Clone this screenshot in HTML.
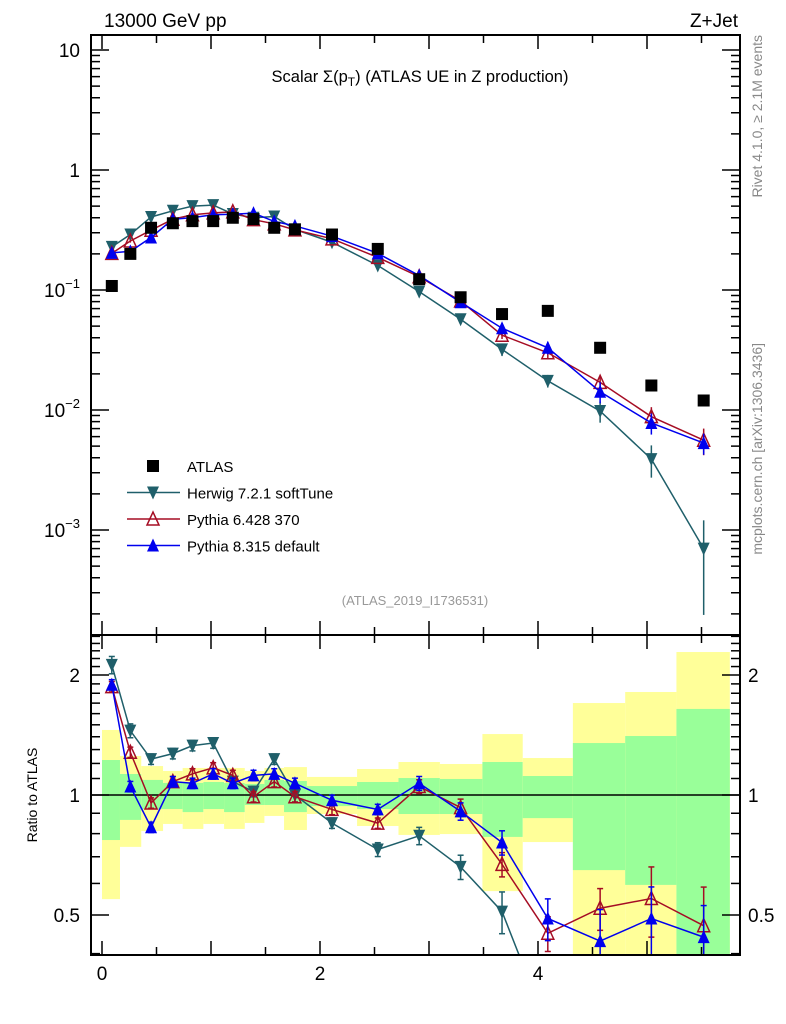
<!DOCTYPE html>
<html><head><meta charset="utf-8"><style>
html,body{margin:0;padding:0;background:#fff;width:786px;height:1024px;overflow:hidden;}
svg{display:block;font-family:"Liberation Sans",sans-serif;}
</style></head><body>
<svg id="chart" width="786" height="1024" viewBox="0 0 786 1024" xmlns="http://www.w3.org/2000/svg">
<g id="bands"></g>
<g id="marks"></g>
<g id="axes"></g>
<text x="104" y="27" font-size="19">13000 GeV pp</text>
<text x="738" y="27" font-size="19" text-anchor="end">Z+Jet</text>
<text x="420" y="82" font-size="16.5" text-anchor="middle">Scalar Σ(p<tspan font-size="12" dy="4">T</tspan><tspan dy="-4">) (ATLAS UE in Z production)</tspan></text>
<text x="415" y="605" font-size="13" fill="#999" text-anchor="middle">(ATLAS_2019_I1736531)</text>
<text transform="translate(762,35) rotate(-90)" font-size="14" fill="#888" text-anchor="end">Rivet 4.1.0, ≥ 2.1M events</text>
<text transform="translate(762,343) rotate(-90)" font-size="14" fill="#888" text-anchor="end">mcplots.cern.ch [arXiv:1306.3436]</text>
<text transform="translate(37,795) rotate(-90)" font-size="14" text-anchor="middle">Ratio to ATLAS</text>
<g id="legend"></g>
</svg>
<script>
const xCenters=[0.09,0.26,0.45,0.65,0.83,1.02,1.20,1.39,1.58,1.77,2.11,2.53,2.91,3.29,3.67,4.09,4.57,5.04,5.52];
const binEdges=[0.0,0.165,0.36,0.56,0.74,0.93,1.12,1.31,1.49,1.67,1.88,2.34,2.72,3.10,3.49,3.86,4.32,4.80,5.27,5.76];
const atlasVals=[0.108,0.20,0.33,0.36,0.375,0.375,0.40,0.39,0.33,0.32,0.29,0.22,0.123,0.087,0.063,0.067,0.033,0.016,0.012];
const herwigVals=[0.229,0.29,0.406,0.457,0.50,0.51,0.43,0.40,0.41,0.32,0.25,0.16,0.097,0.057,0.032,0.0175,0.0098,0.0039,0.0007];
const py6Vals=[0.202,0.256,0.315,0.389,0.424,0.439,0.448,0.386,0.356,0.317,0.267,0.187,0.129,0.081,0.042,0.030,0.017,0.0088,0.0056];
const py8Vals=[0.204,0.21,0.274,0.389,0.401,0.424,0.428,0.437,0.373,0.342,0.281,0.202,0.132,0.079,0.048,0.033,0.0142,0.0078,0.0053];
const herwigRatio=[2.12,1.45,1.23,1.27,1.33,1.35,1.08,1.02,1.23,1.0,0.85,0.73,0.79,0.66,0.51,0.26,0.30,0.245,0.058];
const py6Ratio=[1.87,1.28,0.955,1.08,1.13,1.17,1.12,0.99,1.08,0.99,0.92,0.85,1.05,0.93,0.67,0.45,0.52,0.55,0.47];
const py8Ratio=[1.89,1.05,0.83,1.08,1.07,1.13,1.07,1.12,1.13,1.07,0.97,0.92,1.07,0.91,0.76,0.49,0.43,0.49,0.44];
const herwigErr=[0.05,0.04,0.03,0.03,0.03,0.03,0.03,0.03,0.03,0.04,0.03,0.04,0.05,0.07,0.12,0.12,0.2,0.3,0.72];
const py6Err=[0.03,0.03,0.03,0.03,0.03,0.03,0.03,0.03,0.03,0.03,0.03,0.03,0.04,0.05,0.07,0.1,0.12,0.2,0.25];
const py8Err=[0.03,0.03,0.03,0.03,0.03,0.03,0.03,0.03,0.03,0.03,0.03,0.03,0.04,0.05,0.07,0.12,0.2,0.2,0.2];
const yellowHi=[1.456,1.253,1.182,1.149,1.169,1.169,1.169,1.149,1.169,1.175,1.110,1.162,1.210,1.196,1.422,1.238,1.701,1.813,2.284];
const yellowLo=[0.548,0.741,0.812,0.846,0.822,0.846,0.822,0.851,0.886,0.817,0.896,0.836,0.794,0.798,0.574,0.762,0.3,0.3,0.3];
const greenHi=[1.224,1.129,1.091,1.072,1.072,1.078,1.072,1.066,1.091,1.084,1.053,1.078,1.103,1.097,1.210,1.116,1.350,1.406,1.644];
const greenLo=[0.771,0.866,0.922,0.922,0.906,0.922,0.906,0.944,0.944,0.906,0.938,0.922,0.896,0.896,0.785,0.875,0.648,0.595,0.3];
const xTickLabels=[0,2,4];
const mainTickLabels=[10,1,0.1,0.01,0.001];
const ratioTickLabels=[2,1,0.5];

const NS="http://www.w3.org/2000/svg";
const L=91,R=740,T=35,MB=635,B=955;
const X=v=>102+v*109;
const Ym=v=>170-120*Math.log10(v);
const Yr=v=>795-120*Math.log2(v);
const clampR=y=>Math.max(MB,Math.min(B,y));
function mk(parent,tag,attrs){const e=document.createElementNS(NS,tag);for(const k in attrs)e.setAttribute(k,attrs[k]);parent.appendChild(e);return e;}
const bands=document.getElementById('bands'),marks=document.getElementById('marks'),axes=document.getElementById('axes'),legend=document.getElementById('legend');

for(let i=0;i<xCenters.length;i++){
  const x0=X(binEdges[i]),x1=X(binEdges[i+1]);
  let y1=clampR(Yr(yellowHi[i])),y2=clampR(Yr(yellowLo[i]));
  const yb=mk(bands,'rect',{x:x0,y:y1,width:x1-x0,height:y2-y1,fill:'#ffff99'});
  
  
  y1=clampR(Yr(greenHi[i]));y2=clampR(Yr(greenLo[i]));
  const gb=mk(bands,'rect',{x:x0,y:y1,width:x1-x0,height:y2-y1,fill:'#99ff99'});
  
  
}
const one=mk(bands,'line',{x1:L,x2:R,y1:Yr(1),y2:Yr(1),stroke:'#000','stroke-width':1.5});



function marker(g,type,x,y,color){
  const s=6;
  if(type==='sq')return mk(g,'rect',{x:x-6,y:y-6,width:12,height:12,fill:'#000'});
  if(type==='down')return mk(g,'polygon',{points:`${x-s},${y-s} ${x+s},${y-s} ${x},${y+s+1}`,fill:color});
  if(type==='upfill')return mk(g,'polygon',{points:`${x-s},${y+s} ${x+s},${y+s} ${x},${y-s-1}`,fill:color});
  return mk(g,'polygon',{points:`${x-s},${y+s} ${x+s},${y+s} ${x},${y-s-1}`,fill:'none',stroke:color,'stroke-width':1.5});
}
const series=[
 {name:'herwig',vals:herwigVals,ratio:herwigRatio,err:herwigErr,color:'#1f5f6a',type:'down'},
 {name:'pythia6',vals:py6Vals,ratio:py6Ratio,err:py6Err,color:'#a50d24',type:'up'},
 {name:'pythia8',vals:py8Vals,ratio:py8Ratio,err:py8Err,color:'#0000ee',type:'upfill'}];

const defs=mk(document.getElementById('chart'),'defs',{});
const cp=mk(defs,'clipPath',{id:'rclip'});mk(cp,'rect',{x:L,y:MB,width:R-L,height:B-MB});
const cm=mk(defs,'clipPath',{id:'mclip'});mk(cm,'rect',{x:L,y:T,width:R-L,height:MB-T});

series.forEach(s=>{
  const gm=mk(marks,'g',{'clip-path':'url(#mclip)'});
  
  
  mk(gm,'polyline',{points:s.vals.map((v,i)=>X(xCenters[i])+','+Ym(v)).join(' '),fill:'none',stroke:s.color,'stroke-width':1.5});
  s.vals.forEach((v,i)=>{
    const x=X(xCenters[i]);
    mk(gm,'line',{x1:x,x2:x,y1:Ym(v*(1+s.err[i])),y2:Ym(Math.max(v*(1-s.err[i]),1e-6)),stroke:s.color,'stroke-width':1.5});
    const m=marker(gm,s.type,x,Ym(v),s.color);
    
    
  });
  const gr=mk(marks,'g',{'clip-path':'url(#rclip)'});
  
  
  mk(gr,'polyline',{points:s.ratio.map((v,i)=>X(xCenters[i])+','+Yr(v)).join(' '),fill:'none',stroke:s.color,'stroke-width':1.5});
  s.ratio.forEach((v,i)=>{
    const x=X(xCenters[i]);
    const ya=Yr(v*(1+s.err[i])),yb=Yr(v*(1-s.err[i]));
    mk(gr,'line',{x1:x,x2:x,y1:ya,y2:yb,stroke:s.color,'stroke-width':1.5});
    mk(gr,'line',{x1:x-3,x2:x+3,y1:ya,y2:ya,stroke:s.color,'stroke-width':1.5});
    mk(gr,'line',{x1:x-3,x2:x+3,y1:yb,y2:yb,stroke:s.color,'stroke-width':1.5});
    const m=marker(gr,s.type,x,Yr(v),s.color);
    
    
  });
});
atlasVals.forEach((v,i)=>{
  const m=marker(marks,'sq',X(xCenters[i]),Ym(v),'#000');
  
  
});

[[T,MB],[MB,B]].forEach(([a,b])=>{
  const f=mk(axes,'rect',{x:L,y:a,width:R-L,height:b-a,fill:'none',stroke:'#000','stroke-width':2});
  
  
});
for(let v=0;v<=5.76;v+=0.5){
  const x=X(v),len=(Math.abs(v%1)<1e-6)?14:8;
  [[T,1],[MB,-1],[MB,1],[B,-1]].forEach(([y,d])=>mk(axes,'line',{x1:x,x2:x,y1:y,y2:y+d*len,stroke:'#000','stroke-width':1.5}));
}
xTickLabels.forEach(v=>{
  const t=mk(axes,'text',{x:X(v),y:980,'font-size':19,'text-anchor':'middle'});t.textContent=v;
  
  
});
for(let e=-4;e<=1;e++){
  for(let k=1;k<10;k++){
    const v=k*Math.pow(10,e),y=Ym(v);
    if(y<T||y>MB)continue;
    const len=k===1?18:9;
    mk(axes,'line',{x1:L,x2:L+len,y1:y,y2:y,stroke:'#000','stroke-width':1.5});
    mk(axes,'line',{x1:R,x2:R-len,y1:y,y2:y,stroke:'#000','stroke-width':1.5});
  }
}
mainTickLabels.forEach(v=>{
  const y=Ym(v);
  const t=mk(axes,'text',{x:80,y:y+7,'font-size':19,'text-anchor':'end'});
  if(v>=1)t.textContent=String(v);
  else{const e=Math.round(Math.log10(v));t.textContent='10';const ts=mk(t,'tspan',{dy:-9,'font-size':13});ts.textContent=String(e).replace('-','−');}
  
  
});
[0.4,0.5,0.6,0.7,0.8,0.9,1,1.1,1.2,1.3,1.4,1.5,1.6,1.7,1.8,1.9,2,2.1,2.2,2.3,2.4,2.5].forEach(v=>{
  const y=Yr(v);if(y<MB||y>B)return;
  const len=(v===0.5||v===1||v===2)?18:9;
  mk(axes,'line',{x1:L,x2:L+len,y1:y,y2:y,stroke:'#000','stroke-width':1.5});
  mk(axes,'line',{x1:R,x2:R-len,y1:y,y2:y,stroke:'#000','stroke-width':1.5});
});
ratioTickLabels.forEach(v=>{
  const y=Yr(v)+7;
  const a=mk(axes,'text',{x:80,y:y,'font-size':19,'text-anchor':'end'});a.textContent=v;
  
  
  const b=mk(axes,'text',{x:748,y:y,'font-size':19});b.textContent=v;
  
  
});
const leg=[['ATLAS','sq','#000'],['Herwig 7.2.1 softTune','down','#1f5f6a'],['Pythia 6.428 370','up','#a50d24'],['Pythia 8.315 default','upfill','#0000ee']];
leg.forEach((l,i)=>{
  const y=466+i*26.5;
  const g=mk(legend,'g',{});
  
  
  if(l[1]!=='sq')mk(g,'line',{x1:127,x2:180,y1:y,y2:y,stroke:l[2],'stroke-width':1.5});
  marker(g,l[1],153,y,l[2]);
  const t=mk(g,'text',{x:187,y:y+6,'font-size':15});t.textContent=l[0];
});
</script>
</body></html>
